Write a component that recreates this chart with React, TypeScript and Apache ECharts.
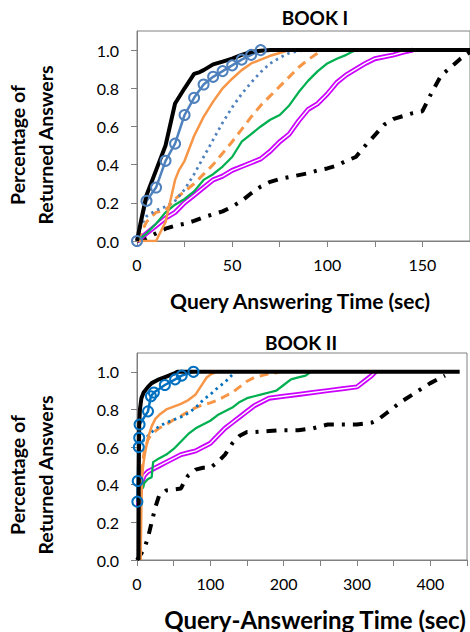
import React, { useEffect, useRef } from "react";
import * as echarts from "echarts";

// ---------- BOOK I data (x = seconds, y = fraction returned) ----------
const b1CircleX = [0, 5, 10, 15, 20, 25, 30, 35, 40, 45, 50, 55, 60, 65];
const b1CircleY = [0, 0.21, 0.28, 0.42, 0.51, 0.66, 0.75, 0.82, 0.86, 0.89, 0.92, 0.95, 0.975, 1.0];

const b1BlackX = [0, 2, 5, 10, 15, 20, 25, 30, 33, 35, 40, 45, 50, 55, 60, 65, 70, 175];
const b1BlackY = [0, 0.1, 0.24, 0.37, 0.5, 0.72, 0.8, 0.875, 0.885, 0.895, 0.925, 0.94, 0.955, 0.975, 0.99, 0.997, 1, 1];

const b1OrangeX = [0, 10, 15, 20, 22, 25, 30, 35, 40, 45, 50, 55, 60, 65, 70, 75, 80];
const b1OrangeY = [0, 0, 0.1, 0.32, 0.37, 0.42, 0.55, 0.65, 0.73, 0.8, 0.85, 0.895, 0.93, 0.95, 0.97, 0.985, 1.0];

const b1DottedX = [0, 2, 5, 10, 15, 20, 25, 30, 35, 40, 45, 50, 55, 60, 65, 70, 75, 80, 85, 90];
const b1DottedY = [0, 0.08, 0.13, 0.16, 0.18, 0.21, 0.27, 0.35, 0.44, 0.53, 0.62, 0.7, 0.77, 0.83, 0.885, 0.93, 0.96, 0.985, 0.995, 1.0];

const b1DashedX = [0, 5, 10, 15, 20, 25, 30, 35, 40, 45, 50, 55, 60, 65, 70, 75, 80, 85, 90, 95, 98];
const b1DashedY = [0, 0.1, 0.15, 0.16, 0.22, 0.26, 0.3, 0.35, 0.4, 0.46, 0.52, 0.585, 0.65, 0.71, 0.76, 0.81, 0.86, 0.91, 0.95, 0.985, 1.0];

const b1GreenX = [0, 5, 10, 15, 20, 25, 30, 35, 40, 45, 50, 55, 60, 65, 70, 75, 80, 85, 90, 95, 100, 105, 110, 115];
const b1GreenY = [0, 0.04, 0.09, 0.15, 0.19, 0.22, 0.26, 0.32, 0.35, 0.39, 0.44, 0.52, 0.56, 0.6, 0.635, 0.66, 0.71, 0.78, 0.84, 0.89, 0.93, 0.955, 0.975, 1.0];

const b1MagentaX = [0, 5, 10, 15, 20, 25, 30, 35, 40, 45, 50, 55, 60, 65, 70, 75, 80, 85, 90, 95, 100, 105, 110, 115, 120, 125, 130, 135, 140, 145];
const b1MagentaY = [0, 0.04, 0.08, 0.12, 0.15, 0.2, 0.24, 0.28, 0.32, 0.34, 0.37, 0.39, 0.41, 0.43, 0.47, 0.52, 0.56, 0.63, 0.69, 0.72, 0.77, 0.83, 0.87, 0.9, 0.93, 0.955, 0.965, 0.975, 0.99, 1.0];

const b1DashDotX = [0, 5, 10, 15, 20, 25, 30, 35, 40, 45, 50, 55, 60, 65, 70, 75, 80, 85, 90, 95, 100, 105, 110, 115, 120, 125, 130, 135, 140, 145, 150, 152, 155, 160, 165, 170, 175];
const b1DashDotY = [0, 0.015, 0.04, 0.065, 0.08, 0.09, 0.105, 0.125, 0.14, 0.155, 0.18, 0.21, 0.25, 0.285, 0.31, 0.325, 0.335, 0.345, 0.355, 0.37, 0.38, 0.395, 0.42, 0.44, 0.5, 0.555, 0.61, 0.64, 0.655, 0.67, 0.68, 0.72, 0.78, 0.87, 0.91, 0.955, 0.99];

// ---------- BOOK II data ----------
const b2CircleX = [0.5, 1, 2.5, 3, 3.5, 15, 19, 23, 38, 52, 61, 77];
const b2CircleY = [0.31, 0.42, 0.6, 0.65, 0.72, 0.79, 0.87, 0.89, 0.93, 0.96, 0.98, 1.0];

const b2BlackX = [2, 2.5, 3, 4, 6, 9, 15, 20, 30, 40, 50, 55, 440];
const b2BlackY = [0, 0.5, 0.72, 0.8, 0.86, 0.89, 0.92, 0.94, 0.96, 0.975, 0.99, 1, 1];

const b2OrangeX = [5, 6, 7, 9, 11, 15, 20, 25, 30, 40, 50, 60, 70, 80, 90, 95, 100, 108];
const b2OrangeY = [0, 0.3, 0.45, 0.52, 0.57, 0.65, 0.71, 0.75, 0.77, 0.8, 0.815, 0.83, 0.85, 0.88, 0.94, 0.97, 0.985, 1.0];

const b2DottedX = [3, 5, 10, 20, 30, 40, 50, 60, 70, 80, 90, 100, 110, 120, 130, 135];
const b2DottedY = [0.6, 0.62, 0.64, 0.68, 0.71, 0.73, 0.745, 0.76, 0.78, 0.81, 0.85, 0.88, 0.915, 0.945, 0.985, 1.0];

const b2DashedX = [5, 7, 10, 15, 20, 30, 40, 50, 60, 70, 80, 90, 100, 110, 120, 130, 140, 150, 160, 170, 180, 190, 195];
const b2DashedY = [0.3, 0.5, 0.58, 0.64, 0.67, 0.7, 0.72, 0.745, 0.765, 0.79, 0.81, 0.825, 0.835, 0.85, 0.87, 0.89, 0.92, 0.95, 0.97, 0.98, 0.99, 0.995, 1.0];

const b2GreenX = [8, 10, 15, 20, 22, 30, 40, 50, 60, 70, 80, 90, 100, 110, 120, 130, 140, 150, 160, 170, 180, 190, 200, 210, 220, 230, 237];
const b2GreenY = [0.38, 0.41, 0.43, 0.44, 0.52, 0.54, 0.56, 0.59, 0.63, 0.67, 0.7, 0.72, 0.74, 0.77, 0.79, 0.81, 0.84, 0.86, 0.87, 0.88, 0.89, 0.9, 0.93, 0.96, 0.97, 0.98, 1.0];

const b2MagentaX = [2, 3, 5, 8, 10, 15, 20, 30, 40, 50, 60, 70, 80, 90, 100, 110, 120, 130, 140, 150, 160, 170, 180, 200, 220, 240, 260, 280, 300, 310, 320, 325];
const b2MagentaY = [0.28, 0.32, 0.38, 0.43, 0.45, 0.47, 0.48, 0.5, 0.52, 0.54, 0.56, 0.57, 0.58, 0.6, 0.62, 0.66, 0.7, 0.73, 0.76, 0.79, 0.82, 0.84, 0.86, 0.87, 0.88, 0.89, 0.9, 0.91, 0.92, 0.95, 0.98, 1.0];

const b2DashDotX = [0, 5, 10, 15, 20, 25, 30, 40, 50, 60, 65, 70, 80, 90, 100, 110, 120, 130, 140, 150, 160, 180, 200, 220, 240, 250, 260, 280, 300, 320, 330, 340, 360, 380, 400, 420];
const b2DashDotY = [0, 0.03, 0.06, 0.12, 0.2, 0.28, 0.34, 0.37, 0.375, 0.38, 0.42, 0.45, 0.48, 0.49, 0.49, 0.52, 0.56, 0.62, 0.66, 0.68, 0.68, 0.685, 0.69, 0.69, 0.7, 0.71, 0.72, 0.72, 0.72, 0.73, 0.75, 0.78, 0.84, 0.89, 0.94, 0.98];

// ---------- axis ticks ----------
const yTicks = [0, 0.2, 0.4, 0.6, 0.8, 1.0];
const b1XTicks = [0, 25, 50, 75, 100, 125, 150, 175];
const b1XLabels = [0, 50, 100, 150];
const b2XTicks = [0, 50, 100, 150, 200, 250, 300, 350, 400, 450];
const b2XLabels = [0, 100, 200, 300, 400];

const titles = ["BOOK I", "BOOK II"];
const xNames = ["Query Answering Time (sec)", "Query-Answering Time (sec)"];
const yName = "Percentage of\nReturned Answers";

const zip = (xs: number[], ys: number[]) => xs.map((x, i) => [x, ys[i]]);

const FONT = "Lato, 'Open Sans', sans-serif";
const GRAY = "#808080";
const ORANGE = "#F79646";
const GREEN = "#00B050";
const MAGENTA = "#CC00FF";

function buildSeries(gi: number, blue: string, d: any) {
  const base = { type: "line", xAxisIndex: gi, yAxisIndex: gi, symbol: "none", showSymbol: false, silent: true };
  return [
    { ...base, data: zip(d.ddX, d.ddY), lineStyle: { color: "#000", width: 4, type: [10, 8, 3, 8] } },
    { ...base, data: zip(d.mX, d.mY), lineStyle: { color: MAGENTA, width: 5 } },
    { ...base, data: zip(d.mX, d.mY), lineStyle: { color: "#fff", width: 1.4 } },
    { ...base, data: zip(d.gX, d.gY), lineStyle: { color: GREEN, width: 2.25 } },
    { ...base, data: zip(d.dsX, d.dsY), lineStyle: { color: ORANGE, width: 3, type: [9, 6] } },
    { ...base, data: zip(d.dtX, d.dtY), lineStyle: { color: blue, width: 2.75, type: [2.5, 4] } },
    { ...base, data: zip(d.oX, d.oY), lineStyle: { color: ORANGE, width: 2.5 } },
    {
      ...base,
      data: zip(d.cX, d.cY),
      symbol: "circle",
      showSymbol: true,
      symbolSize: 10,
      itemStyle: { color: "rgba(255,255,255,0)", borderColor: blue, borderWidth: 2 },
      lineStyle: { color: blue, width: 2.5 },
    },
    { ...base, data: zip(d.bX, d.bY), lineStyle: { color: "#000", width: 4 } },
  ];
}

export default function App() {
  const ref = useRef<HTMLDivElement>(null);
  useEffect(() => {
    if (!ref.current) return;
    const chart = echarts.init(ref.current, undefined, { renderer: "svg" });
    const xAxisCommon = (gi: number, max: number, interval: number, ticks: number[], labels: number[]) => ({
      type: "value",
      gridIndex: gi,
      min: 0,
      max,
      interval,
      splitLine: { show: false },
      axisLine: { show: true, lineStyle: { color: GRAY, width: 1 } },
      axisTick: { show: true, length: 6, customValues: ticks, lineStyle: { color: GRAY } },
      axisLabel: {
        customValues: labels,
        fontFamily: FONT,
        fontSize: 16,
        color: "#000",
        margin: 15,
        formatter: (v: number) => String(v),
      },
    });
    const yAxisCommon = (gi: number) => ({
      type: "value",
      gridIndex: gi,
      min: 0,
      max: 1.1,
      interval: 0.1,
      splitLine: { show: false },
      axisLine: { show: true, lineStyle: { color: GRAY, width: 1 } },
      axisTick: { show: true, length: 6, customValues: yTicks, lineStyle: { color: GRAY } },
      axisLabel: {
        customValues: yTicks,
        fontFamily: FONT,
        fontSize: 16,
        color: "#000",
        margin: 18,
        formatter: (v: number) => v.toFixed(1),
      },
    });
    const option: any = {
      animation: false,
      backgroundColor: "#fff",
      grid: [
        { left: 137, top: 31, width: 333, height: 210, show: true, borderColor: GRAY, borderWidth: 1, backgroundColor: "transparent" },
        { left: 137, top: 353, width: 330, height: 207, show: true, borderColor: GRAY, borderWidth: 1, backgroundColor: "transparent" },
      ],
      xAxis: [xAxisCommon(0, 175, 25, b1XTicks, b1XLabels), xAxisCommon(1, 450, 50, b2XTicks, b2XLabels)],
      yAxis: [yAxisCommon(0), yAxisCommon(1)],
      series: [
        ...buildSeries(0, "#4F81BD", {
          cX: b1CircleX, cY: b1CircleY, bX: b1BlackX, bY: b1BlackY, oX: b1OrangeX, oY: b1OrangeY,
          dtX: b1DottedX, dtY: b1DottedY, dsX: b1DashedX, dsY: b1DashedY, gX: b1GreenX, gY: b1GreenY,
          mX: b1MagentaX, mY: b1MagentaY, ddX: b1DashDotX, ddY: b1DashDotY,
        }),
        ...buildSeries(1, "#0070C0", {
          cX: b2CircleX, cY: b2CircleY, bX: b2BlackX, bY: b2BlackY, oX: b2OrangeX, oY: b2OrangeY,
          dtX: b2DottedX, dtY: b2DottedY, dsX: b2DashedX, dsY: b2DashedY, gX: b2GreenX, gY: b2GreenY,
          mX: b2MagentaX, mY: b2MagentaY, ddX: b2DashDotX, ddY: b2DashDotY,
        }),
      ],
      graphic: [
        { type: "text", x: 315, y: 17, style: { text: titles[0], font: `bold 19px ${FONT}`, fill: "#000", align: "center", verticalAlign: "middle" } },
        { type: "text", x: 301, y: 342, style: { text: titles[1], font: `bold 19px ${FONT}`, fill: "#000", align: "center", verticalAlign: "middle" } },
        { type: "text", x: 300, y: 300, style: { text: xNames[0], font: `bold 21px ${FONT}`, fill: "#000", align: "center", verticalAlign: "middle" } },
        { type: "text", x: 315, y: 619, style: { text: xNames[1], font: `bold 24px ${FONT}`, fill: "#000", align: "center", verticalAlign: "middle" } },
        { type: "text", x: 31, y: 145, rotation: Math.PI / 2, style: { text: yName, font: `bold 19.5px ${FONT}`, lineHeight: 28, fill: "#000", align: "center", verticalAlign: "middle" } },
        { type: "text", x: 31, y: 475, rotation: Math.PI / 2, style: { text: yName, font: `bold 19.5px ${FONT}`, lineHeight: 28, fill: "#000", align: "center", verticalAlign: "middle" } },
      ],
    };
    chart.setOption(option);
    return () => chart.dispose();
  }, []);
  return <div ref={ref} style={{ position: "absolute", left: 0, top: 0, width: 470, height: 632 }} />;
}
